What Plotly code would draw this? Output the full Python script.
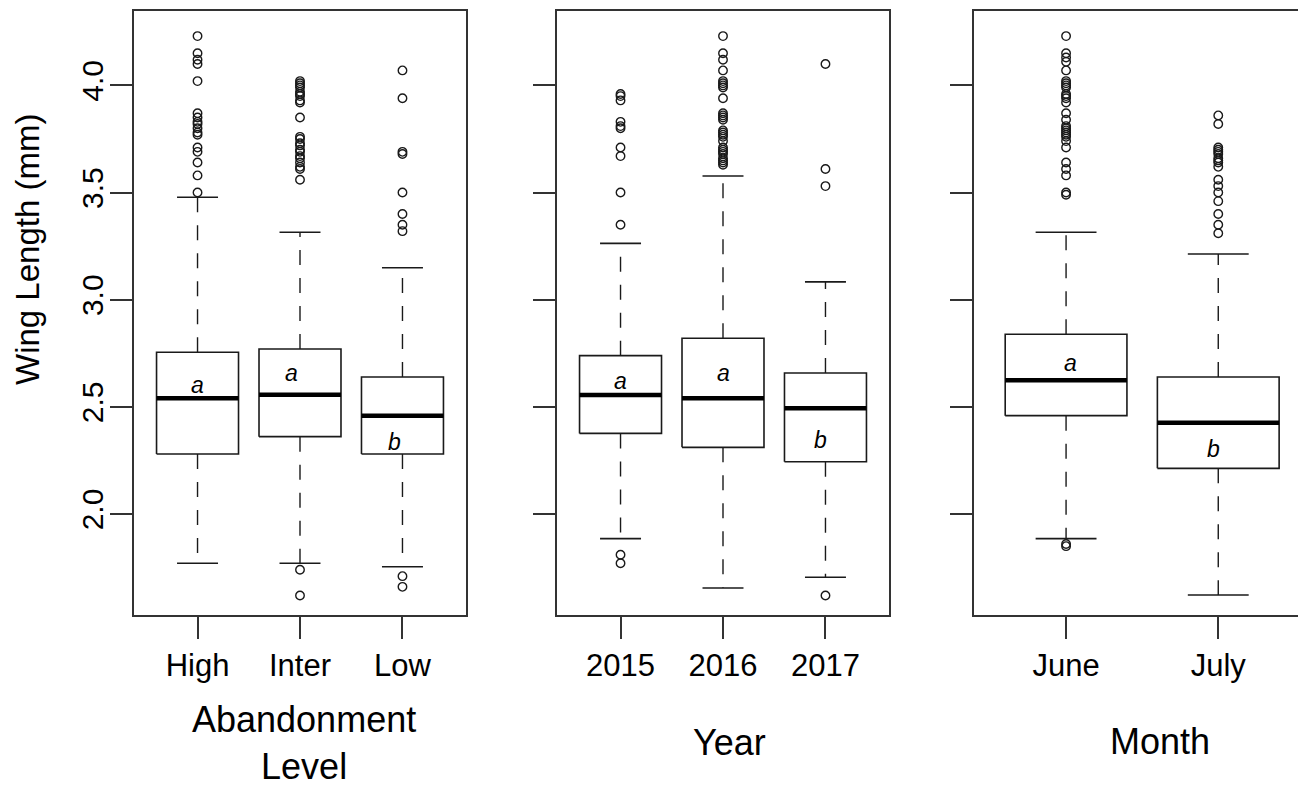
import plotly.graph_objects as go

# ---------------- data ----------------
abandon_cats = ["High", "Inter", "Low"]
abandon_lower = [1.770, 1.770, 1.754]
abandon_q1 = [2.280, 2.361, 2.280]
abandon_median = [2.540, 2.557, 2.459]
abandon_q3 = [2.755, 2.770, 2.639]
abandon_upper = [3.478, 3.315, 3.149]
abandon_outliers = [
    [4.23, 4.15, 4.12, 4.10, 4.02, 3.87, 3.85, 3.83, 3.82, 3.80, 3.78, 3.77,
     3.71, 3.69, 3.64, 3.58, 3.50],
    [4.02, 4.01, 4.00, 3.99, 3.97, 3.96, 3.95, 3.93, 3.92, 3.85, 3.76, 3.75,
     3.73, 3.72, 3.70, 3.69, 3.67, 3.66, 3.64, 3.62, 3.61, 3.56, 1.74, 1.62],
    [4.07, 3.94, 3.69, 3.68, 3.50, 3.40, 3.35, 3.32, 1.71, 1.66],
]
abandon_letters = ["a", "a", "b"]

year_cats = ["2015", "2016", "2017"]
year_lower = [1.885, 1.655, 1.705]
year_q1 = [2.376, 2.311, 2.244]
year_median = [2.555, 2.540, 2.493]
year_q3 = [2.739, 2.820, 2.658]
year_upper = [3.263, 3.577, 3.083]
year_outliers = [
    [3.96, 3.95, 3.93, 3.83, 3.81, 3.80, 3.71, 3.67, 3.50, 3.35, 1.81, 1.77],
    [4.23, 4.15, 4.12, 4.07, 4.02, 4.01, 4.00, 3.99, 3.94, 3.87, 3.86, 3.85,
     3.84, 3.79, 3.78, 3.77, 3.76, 3.74, 3.71, 3.70, 3.69, 3.68, 3.66, 3.65,
     3.64, 3.63],
    [4.10, 3.61, 3.53, 1.62],
]
year_letters = ["a", "a", "b"]

month_cats = ["June", "July"]
month_lower = [1.885, 1.622]
month_q1 = [2.459, 2.213]
month_median = [2.624, 2.426]
month_q3 = [2.839, 2.639]
month_upper = [3.315, 3.213]
month_outliers = [
    [4.23, 4.15, 4.13, 4.11, 4.07, 4.02, 4.01, 4.00, 3.99, 3.96, 3.95, 3.94,
     3.92, 3.87, 3.84, 3.81, 3.80, 3.79, 3.78, 3.77, 3.76, 3.74, 3.71, 3.64,
     3.61, 3.58, 3.50, 3.49, 1.86, 1.85],
    [3.86, 3.82, 3.71, 3.70, 3.69, 3.68, 3.66, 3.65, 3.64, 3.62, 3.56, 3.53,
     3.50, 3.46, 3.40, 3.35, 3.31],
]
month_letters = ["a", "b"]

y_ticks = [2.0, 2.5, 3.0, 3.5, 4.0]
y_tick_text = ["2.0", "2.5", "3.0", "3.5", "4.0"]

# letter label placement (offsets from box centre, in axis units)
abandon_letter_pos = [(0.0, 2.60), (-0.08, 2.657), (-0.075, 2.337)]
year_letter_pos = [(0.0, 2.621), (0.0, 2.657), (-0.045, 2.345)]
month_letter_pos = [(0.026, 2.706), (-0.03, 2.302)]

# ---------------- style ----------------
WIN_W, WIN_H = 1306, 790
OFF = 8                      # page body margin in the browser
W, H = WIN_W - OFF, WIN_H - OFF
FONT = "Liberation Sans, Arial, Helvetica, sans-serif"
INK = "#1a1a1a"
FRAME = "#333333"
BOXW = 0.4      # half box width (boxwex 0.8)
STAPLE = 0.2    # half staple width


def fx(p):
    return (p - OFF) / W


def fy(p):
    return 1 - (p - OFF) / H


fig = go.Figure()


def add_panel(idx, lower, q1, med, q3, upper, outliers, letters, letter_pos):
    xa = "x" if idx == 1 else f"x{idx}"
    ya = "y" if idx == 1 else f"y{idx}"
    common = dict(xaxis=xa, yaxis=ya, showlegend=False, hoverinfo="skip")
    for i in range(len(med)):
        c = i + 1
        # whiskers (dashed)
        fig.add_trace(go.Scatter(x=[c, c], y=[q3[i], upper[i]], mode="lines",
                                 line=dict(color=INK, width=1.4, dash="15px,13px"), **common))
        fig.add_trace(go.Scatter(x=[c, c], y=[q1[i], lower[i]], mode="lines",
                                 line=dict(color=INK, width=1.4, dash="15px,13px"), **common))
        # staples
        for v in (lower[i], upper[i]):
            fig.add_trace(go.Scatter(x=[c - STAPLE, c + STAPLE], y=[v, v], mode="lines",
                                     line=dict(color=INK, width=1.6), **common))
        # box
        fig.add_trace(go.Scatter(
            x=[c - BOXW, c + BOXW, c + BOXW, c - BOXW, c - BOXW],
            y=[q1[i], q1[i], q3[i], q3[i], q1[i]], mode="lines",
            fill="toself", fillcolor="white",
            line=dict(color=INK, width=1.6), **common))
        # median
        fig.add_trace(go.Scatter(x=[c - BOXW, c + BOXW], y=[med[i], med[i]], mode="lines",
                                 line=dict(color="black", width=4.5), **common))
        # outliers
        fig.add_trace(go.Scatter(x=[c] * len(outliers[i]), y=outliers[i], mode="markers",
                                 marker=dict(symbol="circle-open", size=8.5, color=INK,
                                             line=dict(width=1.4, color=INK)), **common))
        # significance letter
        dx, ly = letter_pos[i]
        fig.add_annotation(x=c + dx, y=ly, xref=xa, yref=ya, text=f"<i>{letters[i]}</i>",
                           showarrow=False, font=dict(family=FONT, size=23, color="black"),
                           xanchor="center", yanchor="middle")


add_panel(1, abandon_lower, abandon_q1, abandon_median, abandon_q3, abandon_upper,
          abandon_outliers, abandon_letters, abandon_letter_pos)
add_panel(2, year_lower, year_q1, year_median, year_q3, year_upper,
          year_outliers, year_letters, year_letter_pos)
add_panel(3, month_lower, month_q1, month_median, month_q3, month_upper,
          month_outliers, month_letters, month_letter_pos)

y_dom = [fy(615), fy(10.7)]
y_range = [1.5287, 4.3486]

axis_common = dict(showline=True, mirror=True, linecolor=FRAME, linewidth=1.6,
                   ticks="outside", ticklen=22, tickwidth=1.5, tickcolor=FRAME,
                   showgrid=False, zeroline=False, fixedrange=True)

x_specs = [
    (1, [fx(134), fx(466)], [0.38, 3.62], abandon_cats),
    (2, [fx(557), fx(889)], [0.38, 3.62], year_cats),
    (3, [fx(974), fx(1305)], [0.395, 2.57], month_cats),
]
layout = {}
for idx, dom, rng, cats in x_specs:
    xk = "xaxis" if idx == 1 else f"xaxis{idx}"
    yk = "yaxis" if idx == 1 else f"yaxis{idx}"
    ya = "y" if idx == 1 else f"y{idx}"
    xa = "x" if idx == 1 else f"x{idx}"
    layout[xk] = dict(domain=dom, range=rng, anchor=ya,
                      tickvals=list(range(1, len(cats) + 1)), ticktext=cats,
                      tickfont=dict(family=FONT, size=31, color="black"),
                      **axis_common)
    layout[yk] = dict(domain=y_dom, range=y_range, anchor=xa,
                      tickvals=y_ticks, ticktext=y_tick_text, tickangle=-90,
                      showticklabels=(idx == 1), ticklabelstandoff=-5,
                      tickfont=dict(family=FONT, size=30, color="black"),
                      **axis_common)

fig.update_layout(
    width=W, height=H, autosize=False,
    margin=dict(l=0, r=0, t=0, b=0),
    paper_bgcolor="white", plot_bgcolor="white",
    **layout,
)

TITLE_FONT = dict(family=FONT, size=36, color="black")
fig.add_annotation(x=fx(27), y=fy(250), xref="paper", yref="paper",
                   text="Wing Length (mm)", textangle=-90, showarrow=False,
                   font=dict(family=FONT, size=33, color="black"),
                   xanchor="center", yanchor="middle")
fig.add_annotation(x=fx(304), y=fy(743), xref="paper", yref="paper",
                   text="Abandonment<br>Level", showarrow=False, font=TITLE_FONT,
                   xanchor="center", yanchor="middle", borderpad=0)
fig.add_annotation(x=fx(729), y=fy(742), xref="paper", yref="paper",
                   text="Year", showarrow=False, font=TITLE_FONT,
                   xanchor="center", yanchor="middle")
fig.add_annotation(x=fx(1160), y=fy(741), xref="paper", yref="paper",
                   text="Month", showarrow=False, font=TITLE_FONT,
                   xanchor="center", yanchor="middle")

fig.write_html("out.html")
